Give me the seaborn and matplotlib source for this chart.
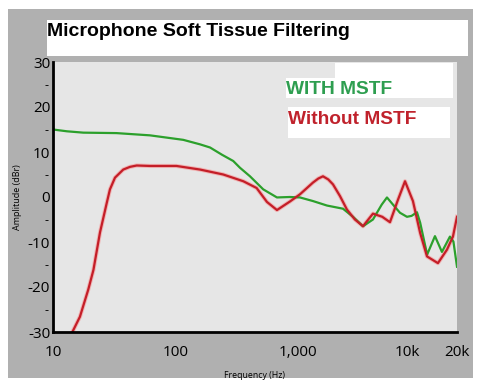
import matplotlib
matplotlib.use("Agg")
import matplotlib.pyplot as plt
import matplotlib.ticker as mticker
import matplotlib.transforms as mtransforms
from matplotlib.patches import Rectangle
import seaborn as sns
import pandas as pd

# ---- data ----
with_freq = [10, 13, 17.7, 33, 62, 116, 159, 192, 240, 297, 337, 407, 522, 676, 863,
             1042, 1330, 1733, 2340, 2826, 3410, 4115, 4850, 5355, 6000, 6840,
             7800, 8500, 9420, 10000, 11400, 13210, 15060, 17510, 18700, 20000]
with_amp = [15.0, 14.6, 14.3, 14.2, 13.7, 12.7, 11.7, 11.0, 9.4, 8.0, 6.5, 4.6,
            1.7, -0.1, 0.0, -0.1, -0.9, -1.9, -2.6, -4.4, -6.5, -5.0, -1.7, -0.1,
            -1.7, -3.5, -4.4, -4.2, -3.4, -5.7, -12.8, -8.7, -12.2, -8.8, -9.9, -15.5]

without_freq = [14.4, 16.6, 19.4, 21.4, 24.2, 27.5, 29.2, 32.1, 37.5, 42.6, 48.3, 62,
                102, 159, 246, 359, 461, 560, 676, 863, 1042, 1330, 1471, 1607, 1775,
                1940, 2213, 2523, 2930, 3410, 3770, 4115, 4900, 5667, 6590, 7520, 8730,
                10000, 11370, 13970, 16560, 18530, 20000]
without_amp = [-30.0, -26.6, -20.6, -16.2, -7.9, -1.3, 1.7, 4.3, 6.1, 6.7, 7.0, 6.9,
               6.9, 6.1, 5.0, 3.5, 2.0, -1.1, -2.9, -1.0, 0.6, 3.2, 4.1, 4.6, 3.9,
               2.8, 0.2, -2.8, -5.0, -6.5, -5.0, -3.7, -4.4, -5.6, -0.6, 3.5, -0.9,
               -8.0, -13.2, -14.7, -11.7, -8.8, -4.4]

x_ticks = [10, 100, 1000, 10000, 20000]
x_tick_labels = ["10", "100", "1,000", "10k", "20k"]
y_ticks = [-30, -20, -10, 0, 10, 20, 30]
y_minor_ticks = [-25, -15, -5, 5, 15, 25]

title_text = "Microphone Soft Tissue Filtering"
series_names = ["WITH MSTF", "Without MSTF"]

df = pd.concat([
    pd.DataFrame({"freq": with_freq, "amp": with_amp, "series": series_names[0]}),
    pd.DataFrame({"freq": without_freq, "amp": without_amp, "series": series_names[1]}),
], ignore_index=True)

# ---- figure ----
W, H = 478, 382
fig = plt.figure(figsize=(W / 100, H / 100), dpi=100, facecolor="white")

def px_rect(x0, y0, x1, y1, color, z):
    r = Rectangle((x0 / W, 1 - y1 / H), (x1 - x0) / W, (y1 - y0) / H,
                  transform=fig.transFigure, facecolor=color,
                  edgecolor="none", zorder=z)
    fig.patches.append(r)
    return r

GRAY = "#b0b0b0"
px_rect(8, 9, 473, 378, GRAY, -2)
px_rect(47, 20, 468, 56, "white", -1)

ax = fig.add_axes([53 / W, 1 - 332 / H, (457 - 53) / W, (332 - 62) / H])
ax.set_zorder(1)
ax.set_facecolor("#e6e6e6")

# soft halo under the red curve (as in the reference rendering)
sns.lineplot(data=df[df["series"] == series_names[1]], x="freq", y="amp",
             color="#f0b4b4", sort=False, estimator=None, linewidth=3.0,
             legend=False, ax=ax)
sns.lineplot(data=df, x="freq", y="amp", hue="series",
             palette={series_names[0]: "#2ca02c", series_names[1]: "#c41e28"},
             sort=False, estimator=None, linewidth=1.6, legend=False, ax=ax)

ax.set_xscale("log")
ax.set_xlim(10, 20000)
ax.set_ylim(-30, 30)

ax.xaxis.set_major_locator(mticker.FixedLocator(x_ticks))
ax.xaxis.set_major_formatter(mticker.FixedFormatter(x_tick_labels))
ax.xaxis.set_minor_locator(mticker.NullLocator())
ax.yaxis.set_major_locator(mticker.FixedLocator(y_ticks))
ax.yaxis.set_major_formatter(mticker.FixedFormatter([str(v) for v in y_ticks]))
ax.yaxis.set_minor_locator(mticker.FixedLocator(y_minor_ticks))
ax.yaxis.set_minor_formatter(mticker.FixedFormatter(["-"] * len(y_minor_ticks)))

ax.tick_params(axis="both", which="both", length=0, colors="black")
ax.tick_params(axis="x", pad=9)
ax.tick_params(axis="y", pad=2)

xlabs = ax.get_xticklabels()
for lab in xlabs + ax.get_yticklabels():
    lab.set_fontfamily("Open Sans")
    lab.set_fontsize(11)
for lab in ax.yaxis.get_minorticklabels():
    lab.set_fontfamily("Open Sans")
    lab.set_fontsize(9)
# the reference draws the "10k" label a little left of its tick
xlabs[3].set_transform(xlabs[3].get_transform() +
                       mtransforms.ScaledTranslation(-0.13, 0, fig.dpi_scale_trans))

for s in ["top", "right"]:
    ax.spines[s].set_visible(False)
for s in ["left", "bottom"]:
    ax.spines[s].set_color("black")
    ax.spines[s].set_linewidth(2)

ax.set_xlabel("Frequency (Hz)", fontsize=6.3, family="Open Sans", labelpad=8)
ax.set_ylabel("Amplitude (dBr)", fontsize=6.5, family="Open Sans", labelpad=4)

# title
fig.text(47 / W, 1 - 32 / H, title_text, ha="left", va="center",
         fontsize=14, fontweight="bold", family="Liberation Sans")

# legend boxes and texts
px_rect(335, 63, 453, 98, "white", 5)
px_rect(286, 78, 453, 98, "white", 5)
px_rect(288, 107, 450, 138, "white", 5)
fig.text(286 / W, 1 - 89 / H, series_names[0], ha="left", va="center",
         fontsize=13.8, fontweight="bold", family="Liberation Sans",
         color="#2e9e50", zorder=6)
fig.text(288 / W, 1 - 119 / H, series_names[1], ha="left", va="center",
         fontsize=13.8, fontweight="bold", family="Liberation Sans",
         color="#c0222c", zorder=6)

fig.savefig("out.png", dpi=100, facecolor="white")
